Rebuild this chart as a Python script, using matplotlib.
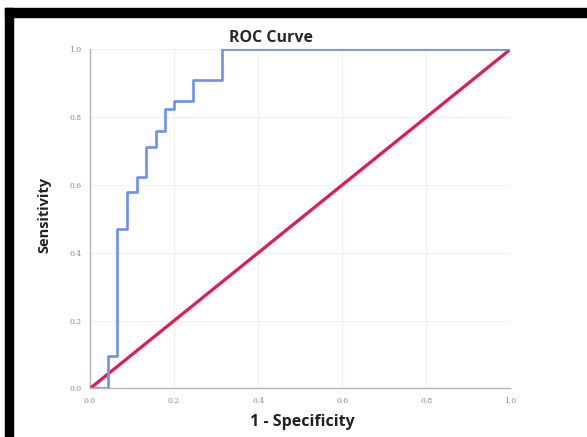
import numpy as np
import matplotlib
matplotlib.use("Agg")
import matplotlib.pyplot as plt
from matplotlib.patches import Rectangle

# ROC curve corner points
fpr = [0.0, 0.042, 0.042, 0.065, 0.065, 0.089, 0.089, 0.111, 0.111, 0.133, 0.133,
       0.156, 0.156, 0.179, 0.179, 0.200, 0.200, 0.246, 0.246, 0.315, 0.315, 1.0]
tpr = [0.0, 0.0, 0.095, 0.095, 0.470, 0.470, 0.580, 0.580, 0.624, 0.624, 0.711,
       0.711, 0.760, 0.760, 0.823, 0.823, 0.847, 0.847, 0.911, 0.911, 1.0, 1.0]
ref_x = [0.0, 1.0]
ref_y = [0.0, 1.0]
ticks = [0.0, 0.2, 0.4, 0.6, 0.8, 1.0]
tick_labels = ["0.0", "0.2", "0.4", "0.6", "0.8", "1.0"]

plt.rcParams['font.family'] = ['Open Sans', 'DejaVu Sans']

fig = plt.figure(figsize=(5.87, 4.37), dpi=100)
ax = fig.add_axes([0.1533, 0.111, 0.716, 0.776])

ax.plot(ref_x, ref_y, color='#e3195a', lw=2.3, zorder=3)
ax.plot(fpr, tpr, color='#6d8ff2', lw=1.9, zorder=4)

ax.set_xlim(0, 1)
ax.set_ylim(0, 1)
ax.set_xticks(ticks)
ax.set_yticks(ticks)
ax.set_xticklabels(tick_labels, fontsize=5.5, color='#8a8a8a', family='DejaVu Serif')
ax.set_yticklabels(tick_labels, fontsize=5.5, color='#8a8a8a', family='DejaVu Serif')
ax.tick_params(length=0, pad=6)
ax.grid(True, color='#f2f1e4', lw=0.8)
for s in ['top', 'right']:
    ax.spines[s].set_visible(False)
for s in ['left', 'bottom']:
    ax.spines[s].set_color('#b5b5b5')
    ax.spines[s].set_linewidth(1.0)

fig.text(0.462, 0.913, "ROC Curve", fontsize=11.5, fontweight='bold', color='#2a2a2a',
         ha='center', va='center')
fig.text(0.515, 0.035, "1 - Specificity", fontsize=11.5, fontweight='bold', color='#222222',
         ha='center', va='center')
fig.text(0.075, 0.508, "Sensitivity", fontsize=10.5, fontweight='bold', color='#222222',
         ha='center', va='center', rotation=90)

# black frame around the picture (top and left edges visible)
fig.patches.append(Rectangle((5 / 587, 0), 8 / 587, 1 - 8 / 437, transform=fig.transFigure,
                             color='black', zorder=10))
fig.patches.append(Rectangle((5 / 587, 1 - 17 / 437), 1, 9 / 437, transform=fig.transFigure,
                             color='black', zorder=10))

fig.savefig("out.png", dpi=100)
